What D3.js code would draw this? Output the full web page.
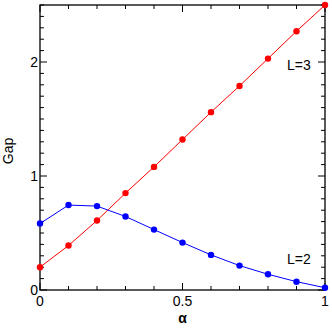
<!DOCTYPE html>
<html>
<head>
<meta charset="utf-8">
<script src="https://cdn.jsdelivr.net/npm/d3@7"></script>
<style>
  body { margin: 0; background: #fff; }
  svg { font-family: "Liberation Sans", Arial, sans-serif; }
</style>
</head>
<body>
<svg id="chart" width="332" height="330"></svg>
<script>
// datos
const alpha = [0, 0.1, 0.2, 0.3, 0.4, 0.5, 0.6, 0.7, 0.8, 0.9, 1.0];
const gapL3 = [0.2, 0.39, 0.61, 0.85, 1.08, 1.32, 1.56, 1.79, 2.03, 2.27, 2.5];
const gapL2 = [0.583, 0.745, 0.736, 0.645, 0.53, 0.416, 0.308, 0.214, 0.138, 0.073, 0.02];
const xTicks = [0, 0.5, 1];
const yTicks = [0, 1, 2];

const svg = d3.select('#chart');
const m = { left: 40, right: 7, top: 5, bottom: 40 };
const W = 332, H = 330;

const x = d3.scaleLinear().domain([0, 1]).range([m.left, W - m.right]);
const y = d3.scaleLinear().domain([0, 2.5]).range([H - m.bottom, m.top]);

const minorX = d3.range(0, 1.0001, 0.1);
const minorY = d3.range(0, 2.5001, 0.1);

// ticks (hacia dentro)
const g = svg.append('g').attr('stroke', '#000').attr('stroke-width', 1);
minorX.forEach(v => {
  const major = xTicks.some(t => Math.abs(t - v) < 1e-6);
  const len = major ? 7 : 4;
  g.append('line').attr('x1', x(v)).attr('x2', x(v))
    .attr('y1', y(0)).attr('y2', y(0) - len);
  g.append('line').attr('x1', x(v)).attr('x2', x(v))
    .attr('y1', y(2.5)).attr('y2', y(2.5) + len);
});
minorY.forEach(v => {
  const major = yTicks.some(t => Math.abs(t - v) < 1e-6);
  const len = major ? 7 : 4;
  g.append('line').attr('x1', x(0)).attr('x2', x(0) + len)
    .attr('y1', y(v)).attr('y2', y(v));
  g.append('line').attr('x1', x(1)).attr('x2', x(1) - len)
    .attr('y1', y(v)).attr('y2', y(v));
});

// marco
svg.append('rect')
  .attr('x', x(0)).attr('y', y(2.5))
  .attr('width', x(1) - x(0)).attr('height', y(0) - y(2.5))
  .attr('fill', 'none').attr('stroke', '#000').attr('stroke-width', 1.3);

// etiquetas de ticks
svg.append('g').selectAll('text').data(xTicks).join('text')
  .attr('x', d => x(d)).attr('y', y(0) + 16)
  .attr('text-anchor', 'middle').attr('font-size', 14)
  .text(d => d3.format('')(d));
svg.append('g').selectAll('text').data(yTicks).join('text')
  .attr('x', x(0) - 2).attr('y', d => y(d) + 5)
  .attr('text-anchor', 'end').attr('font-size', 14)
  .text(d => d);

// titulos
svg.append('text').attr('x', (x(0) + x(1)) / 2).attr('y', 323)
  .attr('text-anchor', 'middle').attr('font-size', 14).attr('font-weight', 'bold')
  .text('α');
svg.append('text')
  .attr('transform', `translate(13,151) rotate(-90)`)
  .attr('text-anchor', 'middle').attr('font-size', 14)
  .text('Gap');

// series
const line = d3.line().x(d => x(d[0])).y(d => y(d[1]));
const series = [
  { vals: gapL3, color: '#ff0000' },
  { vals: gapL2, color: '#0000ff' }
];
series.forEach(s => {
  const pts = alpha.map((a, i) => [a, s.vals[i]]);
  svg.append('path').datum(pts).attr('d', line)
    .attr('fill', 'none').attr('stroke', s.color).attr('stroke-width', 1);
  svg.append('g').selectAll('circle').data(pts).join('circle')
    .attr('cx', d => x(d[0])).attr('cy', d => y(d[1])).attr('r', 3.2)
    .attr('fill', s.color);
});

svg.append('text').attr('x', 287).attr('y', 70).attr('font-size', 14).text('L=3');
svg.append('text').attr('x', 287).attr('y', 264).attr('font-size', 14).text('L=2');
</script>
</body>
</html>
